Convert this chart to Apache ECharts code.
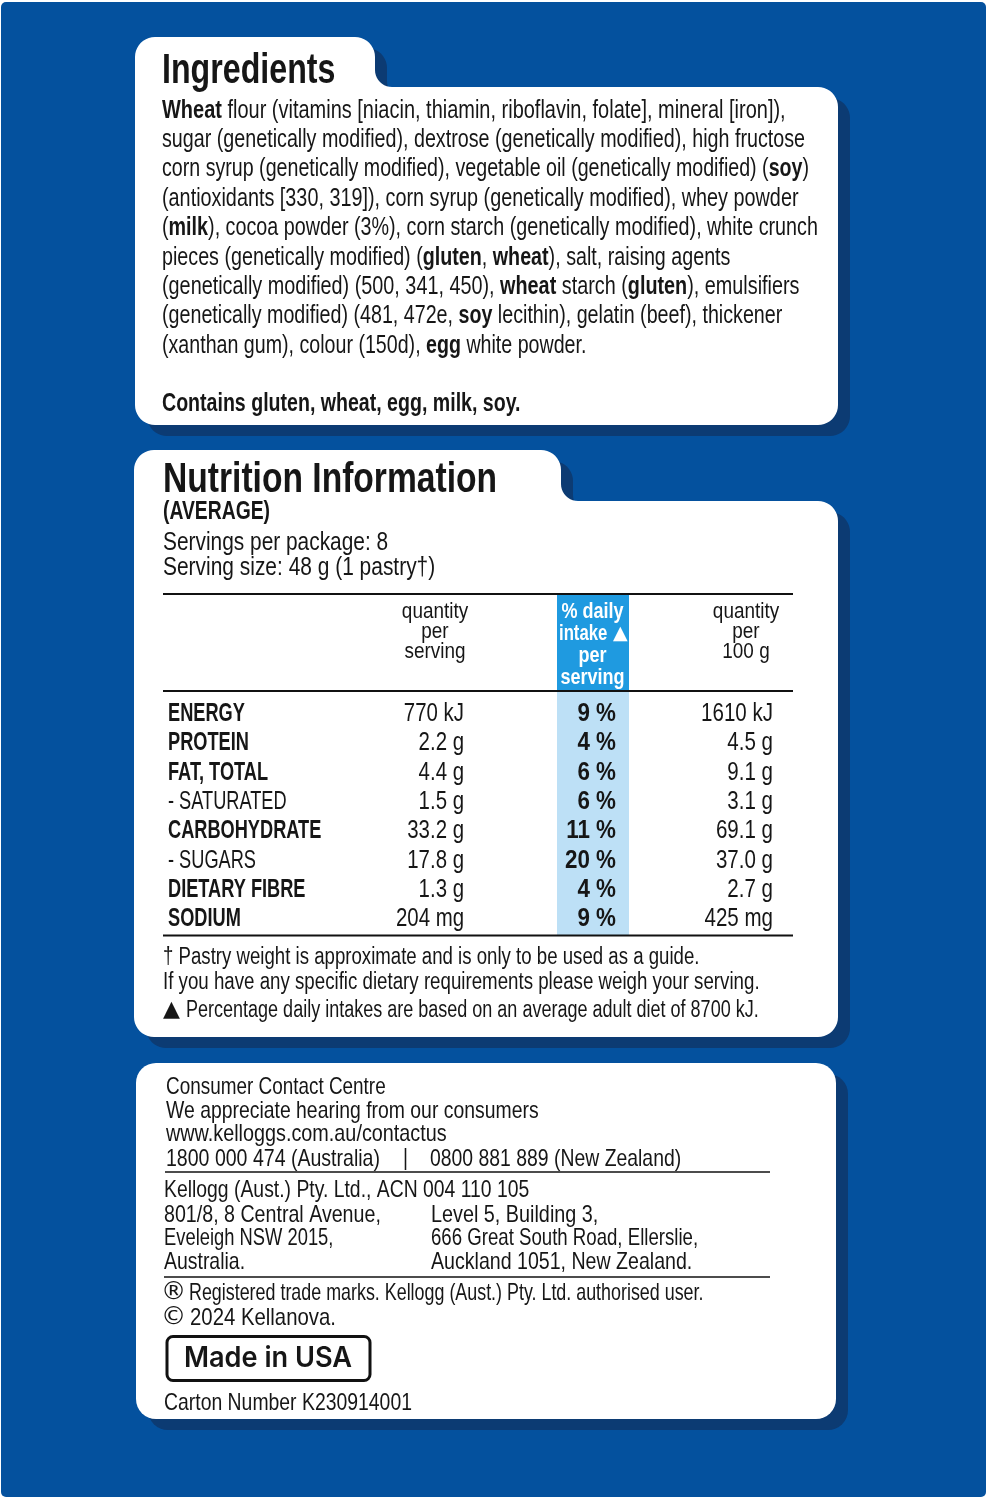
<!DOCTYPE html>
<html>
<head>
<meta charset="utf-8">
<script src="https://cdn.jsdelivr.net/npm/echarts@6/dist/echarts.min.js"></script>
<style>html,body{margin:0;background:#fff}#main{width:988px;height:1500px}</style>
</head>
<body>
<div id="main"></div>
<script>
const nutrients = ['ENERGY','PROTEIN','FAT, TOTAL','- SATURATED','CARBOHYDRATE','- SUGARS','DIETARY FIBRE','SODIUM'];
const perServing = ['770 kJ','2.2 g','4.4 g','1.5 g','33.2 g','17.8 g','1.3 g','204 mg'];
const dailyIntake = ['9 %','4 %','6 %','6 %','11 %','20 %','4 %','9 %'];
const per100g = ['1610 kJ','4.5 g','9.1 g','3.1 g','69.1 g','37.0 g','2.7 g','425 mg'];
const columns = ['per serving','% daily','per 100 g'];

const ingredients = [
  '{b|Wheat} flour (vitamins [niacin, thiamin, riboflavin, folate], mineral [iron]),',
  'sugar (genetically modified), dextrose (genetically modified), high fructose',
  'corn syrup (genetically modified), vegetable oil (genetically modified) ({b|soy})',
  '(antioxidants [330, 319]), corn syrup (genetically modified), whey powder',
  '({b|milk}), cocoa powder (3%), corn starch (genetically modified), white crunch',
  'pieces (genetically modified) ({b|gluten}, {b|wheat}), salt, raising agents',
  '(genetically modified) (500, 341, 450), {b|wheat} starch ({b|gluten}), emulsifiers',
  '(genetically modified) (481, 472e, {b|soy} lecithin), gelatin (beef), thickener',
  '(xanthan gum), colour (150d), {b|egg} white powder.'
];
const ingredientY = [111, 140, 169, 199, 228, 258, 287, 316, 346];
const ingredientSx = [0.768, 0.758, 0.755, 0.762, 0.759, 0.758, 0.762, 0.757, 0.755];

const NARROW = '"Liberation Sans Narrow","Liberation Sans",sans-serif';
const INK = '#161616', BLUE = '#04519e', SHADE = '#0c3b73';

function arc(cx, cy, r, a0, a1) {
  const pts = [];
  for (let i = 0; i <= 10; i++) {
    const a = (a0 + (a1 - a0) * i / 10) * Math.PI / 180;
    pts.push([cx + r * Math.cos(a), cy + r * Math.sin(a)]);
  }
  return pts;
}

// card outline with a folder tab on the top left; tabR = right edge of the tab
function tabCard(l, t, tabR, bodyT, r, b) {
  const rr = 20, cc = 17;
  const pts = [
    ...arc(l + rr, t + rr, rr, 180, 270),
    ...arc(tabR - rr, t + rr, rr, 270, 360),
    ...arc(tabR + cc, bodyT - cc, cc, 180, 90),
    ...arc(r - rr, bodyT + rr, rr, 270, 360),
    ...arc(r - rr, b - rr, rr, 0, 90),
    ...arc(l + rr, b - rr, rr, 90, 180)
  ];
  return [
    { type: 'polygon', x: 12, y: 11, shape: { points: pts }, style: { fill: SHADE } },
    { type: 'polygon', shape: { points: pts }, style: { fill: '#fff' } }
  ];
}

function plainCard(x, y, width, height) {
  return [
    { type: 'rect', x: 12, y: 11, shape: { x, y, width, height, r: 20 }, style: { fill: SHADE } },
    { type: 'rect', shape: { x, y, width, height, r: 20 }, style: { fill: '#fff' } }
  ];
}

function txt(text, x, y, o = {}) {
  return {
    type: 'text', x, y, scaleX: o.sx || 0.8, z: 5,
    style: {
      text, fill: o.fill || INK, fontFamily: o.font || NARROW, fontSize: o.size || 26,
      fontWeight: o.weight || 'normal', align: o.align || 'left', verticalAlign: 'middle',
      rich: { b: { fontFamily: o.font || NARROW, fontSize: o.size || 26, fontWeight: 'bold', fill: o.fill || INK } }
    }
  };
}

function rule(x1, x2, y, w) {
  return { type: 'line', z: 4, shape: { x1, y1: y, x2, y2: y }, style: { stroke: '#111', lineWidth: w } };
}

function band(x, y, width, height, fill) {
  return { type: 'rect', shape: { x, y, width, height }, style: { fill } };
}

const hdr = { size: 22, align: 'center', sx: 0.86 };
const hdrWhite = { size: 22, align: 'center', weight: 'bold', fill: '#fff', sx: 0.82 };
const small = { size: 24 };

const elements = [
  { type: 'rect', shape: { x: 1, y: 2, width: 985, height: 1495, r: 5 }, style: { fill: BLUE } },
  ...tabCard(135, 37, 375, 87, 838, 425),
  ...tabCard(134, 450, 561, 501, 838, 1037),
  ...plainCard(136, 1063, 700, 356),
  band(557, 595, 72, 96, '#1f9ae0'),
  band(557, 691, 72, 244, '#bde0f6'),
  rule(163, 793, 594, 2), rule(163, 793, 691, 2), rule(163, 793, 935.5, 2),
  rule(165, 770, 1172, 1.5), rule(164, 770, 1277, 1.5),

  txt('Ingredients', 162, 71, { size: 42, weight: 'bold', sx: 0.766 }),
  ...ingredients.map((l, i) => txt(l, 162, ingredientY[i], { sx: ingredientSx[i] })),
  txt('Contains gluten, wheat, egg, milk, soy.', 162, 404, { weight: 'bold', size: 25, sx: 0.783 }),

  txt('Nutrition Information', 163, 480, { size: 42, weight: 'bold', sx: 0.8 }),
  txt('(AVERAGE)', 163, 512, { size: 25, weight: 'bold', sx: 0.773 }),
  txt('Servings per package: 8', 163, 543, { sx: 0.803 }),
  txt('Serving size: 48 g (1 pastry†)', 163, 568, { sx: 0.805 }),

  txt('quantity', 435, 612, hdr),
  txt('per', 435, 632, hdr),
  txt('serving', 435, 652, hdr),
  txt('% daily', 592.5, 612, hdrWhite),
  txt('intake', 559, 634, { ...hdrWhite, align: 'left', sx: 0.76 }),
  txt('▲', 613, 634, { size: 19, weight: 'bold', fill: '#fff', font: 'DejaVu Sans', sx: 1 }),
  txt('per', 592.5, 656, hdrWhite),
  txt('serving', 592.5, 678, hdrWhite),
  txt('quantity', 746, 612, hdr),
  txt('per', 746, 632, hdr),
  txt('100 g', 746, 652, hdr),

  txt('† Pastry weight is approximate and is only to be used as a guide.', 163, 958, { size: 23, sx: 0.81 }),
  txt('If you have any specific dietary requirements please weigh your serving.', 163, 983, { size: 23, sx: 0.813 }),
  txt('▲', 163, 1010, { size: 22, font: 'DejaVu Sans', sx: 1 }),
  txt('Percentage daily intakes are based on an average adult diet of 8700 kJ.', 186, 1011, { size: 23, sx: 0.783 }),

  txt('Consumer Contact Centre', 166, 1087, { ...small, sx: 0.788 }),
  txt('We appreciate hearing from our consumers', 166, 1111, { ...small, sx: 0.808 }),
  txt('www.kelloggs.com.au/contactus', 166, 1134, { ...small, sx: 0.825 }),
  txt('1800 000 474 (Australia)', 166, 1159, { ...small, sx: 0.814 }),
  txt('|', 403, 1158, small),
  txt('0800 881 889 (New Zealand)', 430, 1159, { ...small, sx: 0.808 }),
  txt('Kellogg (Aust.) Pty. Ltd., ACN 004 110 105', 164, 1190, { ...small, sx: 0.807 }),
  txt('801/8, 8 Central Avenue,', 164, 1215, { ...small, sx: 0.818 }),
  txt('Eveleigh NSW 2015,', 164, 1238, { ...small, sx: 0.765 }),
  txt('Australia.', 164, 1262, { ...small, sx: 0.81 }),
  txt('Level 5, Building 3,', 431, 1215, { ...small, sx: 0.825 }),
  txt('666 Great South Road, Ellerslie,', 431, 1238, { ...small, sx: 0.776 }),
  txt('Auckland 1051, New Zealand.', 431, 1262, { ...small, sx: 0.816 }),
  txt('®', 161, 1293, { size: 24, font: 'DejaVu Sans', sx: 1.05 }),
  txt('Registered trade marks. Kellogg (Aust.) Pty. Ltd. authorised user.', 189, 1293, { ...small, sx: 0.745 }),
  txt('©', 161, 1318, { size: 24, font: 'DejaVu Sans', sx: 1.05 }),
  txt('2024 Kellanova.', 190, 1318, { ...small, sx: 0.848 }),
  { type: 'rect', z: 4, shape: { x: 167, y: 1336.5, width: 203, height: 44, r: 6 }, style: { fill: '#fff', stroke: '#111', lineWidth: 3 } },
  txt('Made in USA', 268, 1358.5, { font: 'Inter', size: 28, weight: 600, align: 'center', sx: 0.97 }),
  txt('Carton Number K230914001', 164, 1403, { ...small, sx: 0.808 })
];

function cells(col, values, dx, weight, sx) {
  return {
    type: 'custom', clip: false, silent: true,
    data: values.map((v, i) => [col, nutrients[i]]),
    renderItem(params, api) {
      const p = api.coord([api.value(0), api.value(1)]);
      return {
        type: 'text', x: p[0] + dx, y: p[1] + 1.5, scaleX: sx,
        style: { text: values[params.dataIndex], fill: INK, fontFamily: NARROW, fontSize: 26, fontWeight: weight, align: 'right', verticalAlign: 'middle' }
      };
    }
  };
}

const nameSeries = {
  type: 'custom', clip: false, silent: true,
  data: nutrients.map(n => [columns[0], n]),
  renderItem(params, api) {
    const p = api.coord([api.value(0), api.value(1)]);
    const n = nutrients[params.dataIndex];
    return {
      type: 'text', x: p[0] - 296, y: p[1] + 1.5, scaleX: 0.7,
      style: { text: n, fill: INK, fontFamily: NARROW, fontSize: 26, fontWeight: n.startsWith('- ') ? 'normal' : 'bold', align: 'left', verticalAlign: 'middle' }
    };
  }
};

echarts.init(document.getElementById('main'), null, { renderer: 'canvas' }).setOption({
  animation: false,
  backgroundColor: '#fff',
  graphic: { elements },
  grid: { left: 386.75, top: 697.5, width: 463.5, height: 235 },
  xAxis: { type: 'category', data: columns, show: false },
  yAxis: { type: 'category', data: nutrients, inverse: true, show: false },
  series: [
    nameSeries,
    cells(columns[0], perServing, 0, 'normal', 0.785),
    cells(columns[1], dailyIntake, -2.5, 'bold', 0.86),
    cells(columns[2], per100g, 0, 'normal', 0.79)
  ]
});
</script>
</body>
</html>
